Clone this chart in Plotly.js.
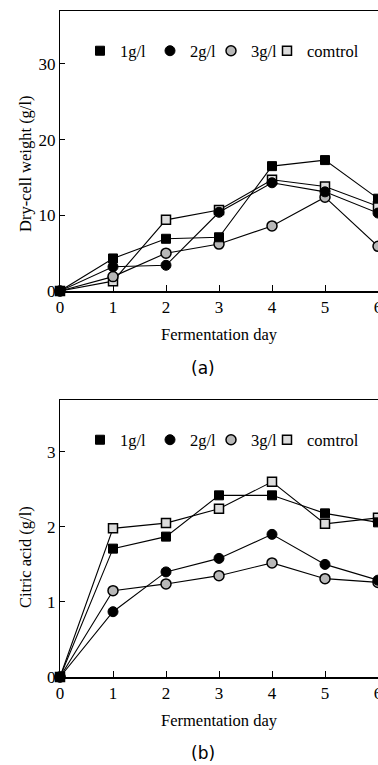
<!DOCTYPE html>
<html><head><meta charset="utf-8">
<script src="https://cdn.plot.ly/plotly-3.0.1.min.js"></script>
<style>html,body{margin:0;padding:0;overflow:hidden;background:#fff;width:378px;height:765px}#chart{width:400px;height:765px}</style>
</head><body><div id="chart"></div><script>
// ---- data ----
const days = [0, 1, 2, 3, 4, 5, 6];
const seriesNames = ['1g/l', '2g/l', '3g/l', 'comtrol'];
const dryCell1 = [0, 4.3, 6.9, 7.1, 16.5, 17.3, 12.2];
const dryCell2 = [0, 3.2, 3.4, 10.4, 14.3, 13.1, 10.3];
const dryCell3 = [0, 1.9, 5.0, 6.2, 8.6, 12.4, 5.9];
const dryCellControl = [0, 1.3, 9.4, 10.7, 14.7, 13.8, 11.2];
const citric1 = [0, 1.71, 1.87, 2.42, 2.42, 2.18, 2.06];
const citric2 = [0, 0.87, 1.40, 1.58, 1.90, 1.50, 1.29];
const citric3 = [0, 1.15, 1.24, 1.35, 1.52, 1.31, 1.26];
const citricControl = [0, 1.98, 2.05, 2.24, 2.60, 2.04, 2.12];
const xTicks = [0, 1, 2, 3, 4, 5, 6];
const dryTicks = [0, 10, 20, 30];
const citricTicks = [0, 1, 2, 3];
const xTitle = 'Fermentation day';
const dryTitle = 'Dry-cell weight (g/l)';
const citricTitle = 'Citric acid (g/l)';

// ---- styles ----
const W = 400, H = 765;
const markerStyles = [
  {symbol: 'square', size: 9, color: '#000', line: {color: '#000', width: 1}},
  {symbol: 'circle', size: 10, color: '#000', line: {color: '#000', width: 1}},
  {symbol: 'circle', size: 10, color: '#b8b8b8', line: {color: '#000', width: 1.5}},
  {symbol: 'square', size: 9, color: '#dcdcdc', line: {color: '#000', width: 1.5}}
];
const legendWidths = [25, 16, 11, 60];
const serif = 'Liberation Serif, Times New Roman, serif';

function makeTraces(values, xa, ya, legendId) {
  const lines = values.map((v, i) => ({
    x: days, y: v, xaxis: xa, yaxis: ya, mode: 'lines', type: 'scatter',
    line: {color: '#000', width: 1.1}, showlegend: false, hoverinfo: 'skip', cliponaxis: false
  }));
  // markers drawn in reverse order so that the filled 1g/l square is on top
  const marks = values.map((v, i) => ({
    x: days, y: v, xaxis: xa, yaxis: ya, mode: 'markers', type: 'scatter',
    name: seriesNames[i], marker: markerStyles[i], legend: legendId, legendrank: i + 1,
    legendwidth: legendWidths[i], cliponaxis: false
  })).reverse();
  return lines.concat(marks);
}

const data = makeTraces([dryCell1, dryCell2, dryCell3, dryCellControl], 'x', 'y', 'legend')
  .concat(makeTraces([citric1, citric2, citric3, citricControl], 'x2', 'y2', 'legend2'));

const px = v => v / W;
const py = v => 1 - v / H;
const xDom = [px(60), px(378)];

function xAxis(anchor) {
  return {
    domain: xDom, range: [0, 6], anchor: anchor, tickvals: xTicks, ticks: 'inside', ticklen: 6,
    tickwidth: 1, tickcolor: '#000', showline: true, linecolor: '#000', linewidth: 1.5, mirror: true,
    showgrid: false, zeroline: false, automargin: false,
    tickfont: {family: serif, size: 17, color: '#000'},
    title: {text: xTitle, font: {family: serif, size: 16.5, color: '#000'}, standoff: 12}
  };
}
function yAxis(anchor, dom, range, ticks) {
  return {
    domain: dom, range: range, anchor: anchor, tickvals: ticks, ticks: 'inside', ticklen: 5,
    tickwidth: 1, tickcolor: '#000', showline: true, linecolor: '#000', linewidth: 1, mirror: true,
    showgrid: false, zeroline: false, automargin: false,
    tickfont: {family: serif, size: 17, color: '#000'}
  };
}
function legendAt(yc) {
  return {orientation: 'h', x: px(80), xanchor: 'left', y: py(yc), yanchor: 'middle',
    bgcolor: 'rgba(0,0,0,0)', borderwidth: 0, itemwidth: 30, traceorder: 'normal',
    font: {family: serif, size: 16.5, color: '#000'}};
}

const layout = {
  width: W, height: H, margin: {l: 0, r: 0, t: 0, b: 0}, paper_bgcolor: '#fff', plot_bgcolor: '#fff',
  font: {family: serif, size: 16, color: '#000'},
  xaxis: xAxis('y'),
  yaxis: yAxis('x', [py(291), py(11)], [0, 37], dryTicks),
  xaxis2: xAxis('y2'),
  yaxis2: yAxis('x2', [py(677), py(400)], [0, 3.69], citricTicks),
  legend: legendAt(51),
  legend2: legendAt(440),
  annotations: [
    {text: dryTitle, xref: 'paper', yref: 'paper', x: px(25), y: py(164), textangle: -90,
     showarrow: false, xanchor: 'center', yanchor: 'middle', font: {family: serif, size: 16.5, color: '#000'}},
    {text: citricTitle, xref: 'paper', yref: 'paper', x: px(25), y: py(557), textangle: -90,
     showarrow: false, xanchor: 'center', yanchor: 'middle', font: {family: serif, size: 16.5, color: '#000'}},
    {text: '(a)', xref: 'paper', yref: 'paper', x: px(203), y: py(368), showarrow: false,
     xanchor: 'center', yanchor: 'middle', font: {family: 'DejaVu Sans, Noto Sans, sans-serif', size: 17, color: '#000'}},
    {text: '(b)', xref: 'paper', yref: 'paper', x: px(203), y: py(753), showarrow: false,
     xanchor: 'center', yanchor: 'middle', font: {family: 'DejaVu Sans, Noto Sans, sans-serif', size: 17, color: '#000'}}
  ],
  showlegend: true
};

Plotly.newPlot('chart', data, layout, {staticPlot: true, displayModeBar: false});
</script></body></html>
